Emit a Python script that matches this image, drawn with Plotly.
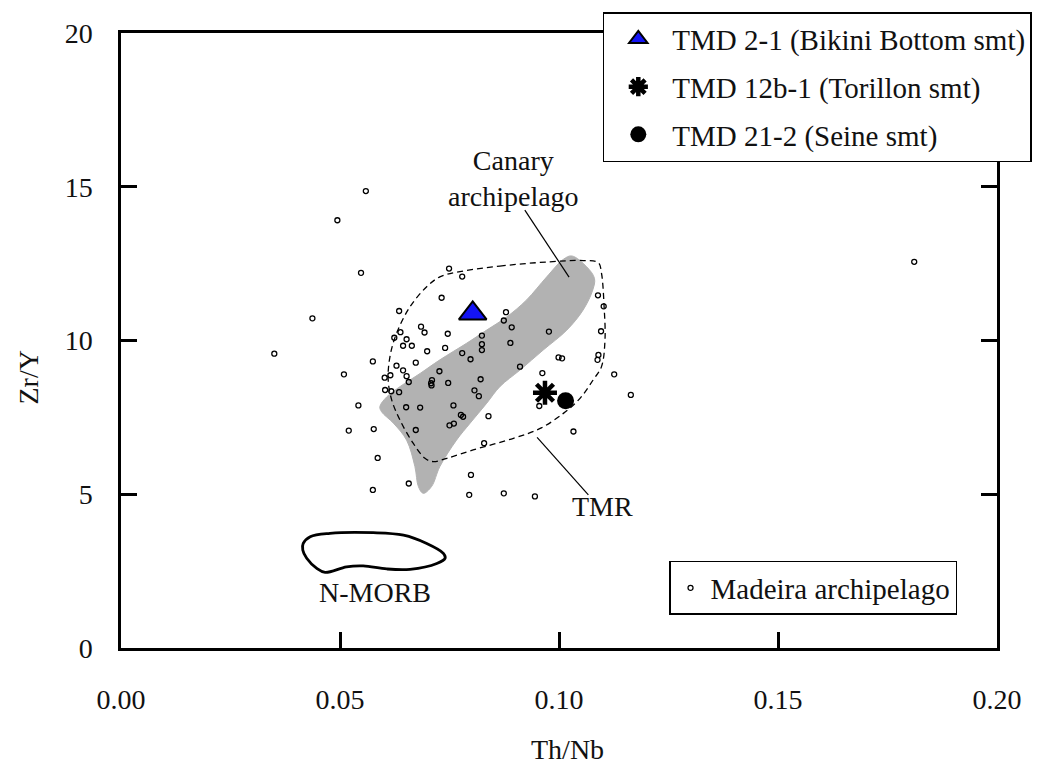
import plotly.graph_objects as go

# ---------------- data ----------------
madeira_thnb = [0.0548, 0.0749, 0.0779, 0.0437, 0.0732, 0.0635, 0.0879, 0.0874, 0.0892, 0.0638,
                0.0685, 0.0693, 0.0746, 0.0624, 0.0652, 0.0644, 0.0664, 0.0824, 0.0824, 0.0824,
                0.0977, 0.0889, 0.0740, 0.0699, 0.0779, 0.0798, 0.0575, 0.0673, 0.0999, 0.1007,
                0.1089, 0.1102, 0.1096, 0.1090, 0.1088, 0.1126, 0.0911, 0.0962, 0.0629, 0.0644,
                0.0509, 0.0615, 0.0602, 0.0652, 0.0657, 0.0727, 0.0710, 0.0708, 0.0709, 0.0747,
                0.0821, 0.0603, 0.0617, 0.0635, 0.0807, 0.0817, 0.0542, 0.0651, 0.0683, 0.0759,
                0.0955, 0.0776, 0.0781, 0.0839, 0.0520, 0.0577, 0.0673, 0.0750, 0.0760, 0.1033,
                0.0829, 0.0586, 0.0799, 0.0657, 0.0575, 0.0795, 0.0874, 0.0945, 0.0494, 0.0559,
                0.0350, 0.1811, 0.1164]
madeira_zry = [12.20, 12.34, 12.08, 10.72, 11.39, 10.96, 10.92, 10.65, 10.43, 10.27,
               10.45, 10.26, 10.22, 10.09, 10.04, 9.83, 9.83, 10.16, 9.88, 9.69,
               10.29, 9.92, 9.76, 9.65, 9.59, 9.39, 9.32, 9.28, 9.45, 9.42,
               11.47, 11.11, 10.30, 9.53, 9.37, 8.90, 9.15, 8.94, 9.18, 9.03,
               8.90, 8.87, 8.79, 8.84, 8.65, 9.00, 8.71, 8.61, 8.54, 8.62,
               8.74, 8.39, 8.35, 8.32, 8.38, 8.19, 7.89, 7.83, 7.82, 7.89,
               7.87, 7.58, 7.52, 7.54, 7.07, 7.12, 7.09, 7.24, 7.30, 7.04,
               6.66, 6.18, 5.63, 5.35, 5.14, 4.98, 5.03, 4.93, 13.91, 14.86,
               9.57, 12.56, 8.23]

sample_names = ["TMD 2-1 (Bikini Bottom smt)", "TMD 12b-1 (Torillon smt)", "TMD 21-2 (Seine smt)"]
sample_thnb = [0.0803, 0.0968, 0.1015]
sample_zry = [10.88, 8.30, 8.04]

canary_thnb = [0.1029, 0.1063, 0.1081, 0.1077, 0.1055, 0.1018, 0.0964, 0.0911, 0.0865, 0.0835,
               0.0797, 0.0766, 0.0728, 0.0709, 0.0690, 0.0679, 0.0671, 0.0652, 0.0622, 0.0595,
               0.0591, 0.0607, 0.0637, 0.0683, 0.0728, 0.0789, 0.0835, 0.0881, 0.0926, 0.0972,
               0.1010, 0.1029]
canary_zry = [12.75, 12.40, 12.02, 11.64, 10.99, 10.34, 9.69, 9.04, 8.50, 7.96,
              7.31, 6.76, 5.90, 5.25, 5.03, 5.25, 5.90, 6.76, 7.31, 7.68,
              7.85, 8.17, 8.50, 8.93, 9.37, 9.91, 10.34, 10.77, 11.32, 12.07,
              12.64, 12.75]

tmr_thnb = [0.0774, 0.0865, 0.0979, 0.1055, 0.1090, 0.1097, 0.1103, 0.1105, 0.1097, 0.1078,
            0.1048, 0.1010, 0.0957, 0.0896, 0.0804, 0.0744, 0.0713, 0.0694, 0.0667, 0.0637,
            0.0618, 0.0610, 0.0614, 0.0629, 0.0660, 0.0698, 0.0728, 0.0774]
tmr_zry = [12.24, 12.42, 12.56, 12.60, 12.53, 12.19, 11.10, 10.02, 9.15, 8.72,
           8.12, 7.63, 7.14, 6.82, 6.44, 6.17, 6.06, 6.17, 6.66, 7.41,
           8.07, 8.72, 9.47, 10.23, 11.10, 11.75, 12.07, 12.24]

morb_thnb = [0.0477, 0.0576, 0.0645, 0.0698, 0.0736, 0.0740, 0.0721, 0.0660, 0.0607, 0.0553,
             0.0515, 0.0466, 0.0447, 0.0424, 0.0415, 0.0416, 0.0432, 0.0477]
morb_zry = [3.73, 3.75, 3.67, 3.40, 3.08, 2.92, 2.75, 2.56, 2.57, 2.67,
            2.64, 2.46, 2.59, 2.92, 3.19, 3.40, 3.62, 3.73]

x_ticks = [0.00, 0.05, 0.10, 0.15, 0.20]
x_ticklabels = ["0.00", "0.05", "0.10", "0.15", "0.20"]
y_ticks = [0, 5, 10, 15, 20]
y_ticklabels = ["0", "5", "10", "15", "20"]

# ---------------- figure ----------------
FONT = "Liberation Serif, Times New Roman, serif"
FS = 28
TXT = "#111"

fig = go.Figure()

fig.add_trace(go.Scatter(x=canary_thnb, y=canary_zry, mode="lines", fill="toself",
                         fillcolor="#b2b2b2", line=dict(color="#b2b2b2", width=1, shape="spline", smoothing=1.0),
                         showlegend=False, hoverinfo="skip"))
fig.add_trace(go.Scatter(x=tmr_thnb, y=tmr_zry, mode="lines",
                         line=dict(color="black", width=1.3, dash="6px,4px", shape="spline", smoothing=1.0),
                         showlegend=False, hoverinfo="skip"))
fig.add_trace(go.Scatter(x=morb_thnb, y=morb_zry, mode="lines",
                         line=dict(color="black", width=2.8, shape="spline", smoothing=1.0),
                         showlegend=False, hoverinfo="skip"))

fig.add_trace(go.Scatter(x=madeira_thnb, y=madeira_zry, mode="markers", name="Madeira archipelago",
                         marker=dict(symbol="circle-open", size=5, color="black", line=dict(width=1.3)),
                         legend="legend2"))

sym = ["triangle-up", "asterisk-open", "circle"]
sizes = [24, 20, 17]
fills = ["#1414f5", "black", "black"]
lw = [2, 4.5, 0]
for i in range(3):
    fig.add_trace(go.Scatter(x=[sample_thnb[i]], y=[sample_zry[i]], mode="markers", name=sample_names[i],
                             legendgroup=f"g{i}",
                             marker=dict(symbol=sym[i], size=sizes[i], color=fills[i],
                                         line=dict(color="black", width=lw[i])),
                             legend="legend"))

# leader lines
fig.add_shape(type="line", x0=0.0922, y0=14.24, x1=0.1023, y1=12.06, line=dict(color="black", width=1.2))
fig.add_shape(type="line", x0=0.0950, y0=6.85, x1=0.1067, y1=4.98, line=dict(color="black", width=1.2))

# region labels
for txt, x, y in [("Canary<br>archipelago", 0.0895, 15.28), ("TMR", 0.1100, 4.59), ("N-MORB", 0.0581, 1.79)]:
    fig.add_annotation(x=x, y=y, text=txt, showarrow=False, font=dict(family=FONT, size=FS, color=TXT))

# axis titles
fig.add_annotation(xref="paper", yref="paper", x=0.51, y=-0.165, xanchor="center", yanchor="middle",
                   text="Th/Nb", showarrow=False, font=dict(family=FONT, size=FS, color=TXT))
fig.add_annotation(xref="paper", yref="paper", x=-0.106, y=0.44, xanchor="center", yanchor="middle",
                   text="Zr/Y", showarrow=False, textangle=-90,
                   font=dict(family=FONT, size=FS, color=TXT))

axis_common = dict(showgrid=False, zeroline=False, showline=True, linecolor="black", linewidth=2.5,
                   ticks="inside", ticklen=16, tickwidth=2.5, tickcolor="black",
                   tickfont=dict(family=FONT, size=FS, color=TXT))

fig.update_xaxes(range=[0, 0.2], tickvals=x_ticks, ticktext=x_ticklabels, mirror=True,
                 ticklabelstandoff=25, **axis_common)
fig.update_yaxes(range=[0, 20], tickvals=y_ticks, ticktext=y_ticklabels, mirror="ticks",
                 ticklabelstandoff=20, **axis_common)

fig.update_layout(
    width=1045, height=766,
    margin=dict(l=121, r=48, t=33, b=118),
    paper_bgcolor="white", plot_bgcolor="white",
    font=dict(family=FONT, size=FS, color=TXT),
    legend=dict(x=0.550, y=1.034, xanchor="left", yanchor="top", bgcolor="white",
                bordercolor="black", borderwidth=1.5, tracegroupgap=7, itemwidth=58,
                font=dict(family=FONT, size=29, color=TXT)),
    legend2=dict(x=0.6256, y=0.1415, xanchor="left", yanchor="top", bgcolor="white",
                 bordercolor="black", borderwidth=1.5,
                 font=dict(family=FONT, size=29, color=TXT)),
)

fig.write_html("out.html")
